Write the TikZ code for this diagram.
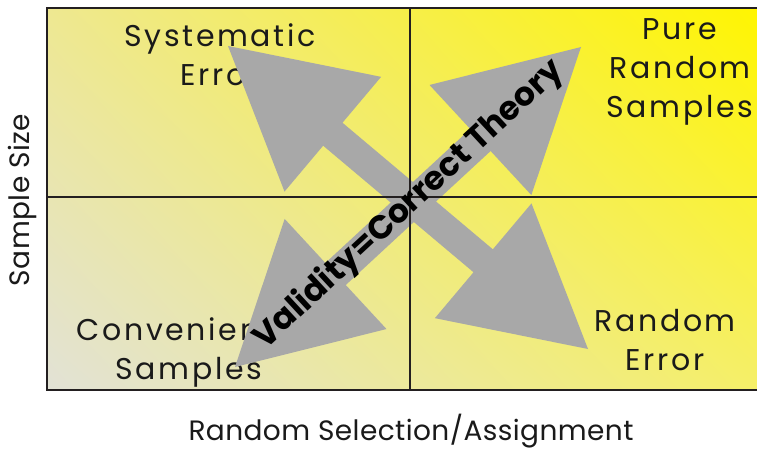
\documentclass[tikz,border=0pt]{standalone}
\usepackage{fontspec}
\setmainfont{Poppins}
\usetikzlibrary{calc,shadings}
\definecolor{arrowgray}{HTML}{A8A8A8}
\definecolor{framecol}{HTML}{231F20}
\definecolor{cLL}{HTML}{E2E2D6}
\definecolor{cUR}{HTML}{FFF500}
\definecolor{cUL}{HTML}{EEE891}
\definecolor{cLR}{HTML}{F5EF68}
\definecolor{txt}{HTML}{1A1A1A}
\newcommand\dblarrow[2]{%
  \fill[arrowgray] (#1)
    -- ($($(#1)!137pt!(#2)$)!75pt!90:(#2)$)
    -- ($($(#1)!137pt!(#2)$)!15pt!90:(#2)$)
    -- ($($(#2)!137pt!(#1)$)!15pt!-90:(#1)$)
    -- ($($(#2)!137pt!(#1)$)!75pt!-90:(#1)$)
    -- (#2)
    -- ($($(#2)!137pt!(#1)$)!75pt!90:(#1)$)
    -- ($($(#2)!137pt!(#1)$)!15pt!90:(#1)$)
    -- ($($(#1)!137pt!(#2)$)!15pt!-90:(#2)$)
    -- ($($(#1)!137pt!(#2)$)!75pt!-90:(#2)$)
    -- cycle;}
\begin{document}
\begin{tikzpicture}[x=1pt,y=-1pt,
  lbl/.style={align=center, text=txt, inner sep=0pt, font=\fontsize{30}{39}\selectfont\addfontfeatures{LetterSpace=9}},
  axislbl/.style={text=txt, inner sep=0pt, font=\fontsize{28}{32}\selectfont\addfontfeatures{LetterSpace=1.5}},
  divider/.style={draw=framecol, line width=2pt},
  framebox/.style={draw=framecol, line width=2.2pt},
  diaglbl/.style={text=black, inner sep=0pt, font=\bfseries\fontsize{33}{35}\selectfont}]
\clip (0,0) rectangle (757,449);
\fill[white] (0,0) rectangle (757,449);
\shade[lower left=cLL, upper right=cUR, upper left=cUL, lower right=cLR] (47,8) rectangle (762,390);
% quadrant labels
\node[lbl] (syst) at (220,55) {Systematic\\Error};
\node[lbl] (pure) at (680,72) {Pure\\Random\\Samples};
\node[lbl] (rerr) at (665,340) {Random\\Error};
\node[lbl] (conv) at (189,352) {Convenience\\Samples};
% axis labels
\node[axislbl, rotate=90] (ylab) at (22,200) {Sample Size};
\node[axislbl] (xlab) at (411,431) {Random Selection/Assignment};
% arrows
\coordinate (nw) at (228,46);
\coordinate (se) at (588,349);
\coordinate (sw) at (235,367);
\coordinate (ne) at (581,47);
\dblarrow{nw}{se}
\dblarrow{sw}{ne}
% dividers and frame
\draw[divider] (410,8) -- (410,390);
\draw[divider] (47,197) -- (762,197);
\draw[framebox] (47,8) rectangle (762,390);
% diagonal text
\node[diaglbl, rotate=42.8] (valid) at (409,205) {Validity=Correct Theory};
\end{tikzpicture}
\end{document}
